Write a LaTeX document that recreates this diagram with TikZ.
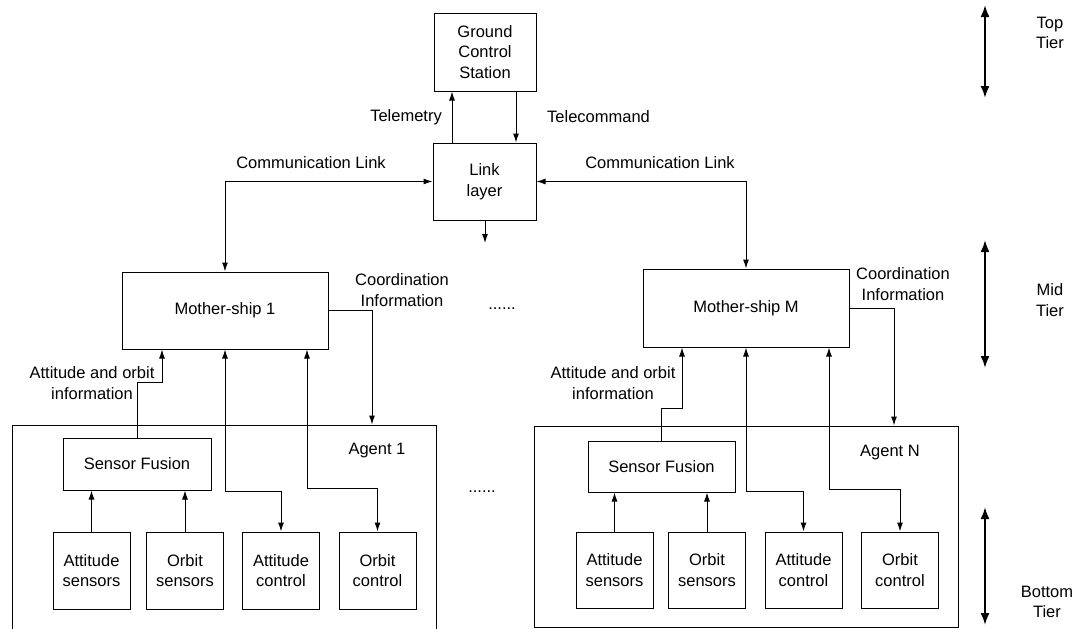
\documentclass[tikz,border=0pt]{standalone}
\usepackage{fontspec}
\setmainfont{Liberation Sans}
\usetikzlibrary{arrows.meta,calc}
\begin{document}
\begin{tikzpicture}[x=1pt,y=-1pt,
  every node/.style={font=\fontsize{16.5}{20.5}\selectfont},
  box/.style={draw,line width=1pt,inner sep=0pt,align=center},
  lbl/.style={align=center,inner sep=0pt},
  arr/.style={line width=1pt,-{Latex[length=9pt,width=6pt]}},
  darr/.style={line width=1pt,{Latex[length=9pt,width=6pt]}-{Latex[length=9pt,width=6pt]}},
  tier/.style={line width=2pt,{Latex[length=12pt,width=9pt]}-{Latex[length=12pt,width=9pt]}}]
\useasboundingbox (0,0) rectangle (1082,629);
% top tier
\node[box,minimum width=102pt,minimum height=78pt] (gcs) at (485,52) {Ground\\Control\\Station};
\node[box,minimum width=103pt,minimum height=77pt] (link) at (484.5,181.5) {Link\\layer};
% mother-ships
\node[box,minimum width=206pt,minimum height=77pt] (ms1) at (225,310.5) {Mother-ship 1};
\node[box,minimum width=206pt,minimum height=78pt] (msm) at (746,308) {Mother-ship M};
% agents
\node[box,minimum width=424pt,minimum height=206pt] (ag1) at (224,528) {};
\node[box,minimum width=424pt,minimum height=201pt] (agn) at (746,526.5) {};
\node[lbl] (ag1l) at (377,451) {Agent 1};
\node[lbl] (agnl) at (890,453) {Agent N};
% agent 1 inner
\node[box,minimum width=148pt,minimum height=52pt] (sf1) at (137,464) {Sensor Fusion};
\node[box,minimum width=77pt,minimum height=77pt] (as1) at (91.5,570.5) {Attitude\\sensors};
\node[box,minimum width=77pt,minimum height=77pt] (os1) at (185,570.5) {Orbit\\sensors};
\node[box,minimum width=77pt,minimum height=77pt] (ac1) at (281,570.5) {Attitude\\control};
\node[box,minimum width=77pt,minimum height=77pt] (oc1) at (377.5,570.5) {Orbit\\control};
% agent N inner
\node[box,minimum width=147pt,minimum height=51pt] (sfn) at (661.5,466.5) {Sensor Fusion};
\node[box,minimum width=77pt,minimum height=76pt] (asn) at (614.5,570) {Attitude\\sensors};
\node[box,minimum width=77pt,minimum height=76pt] (osn) at (707,570) {Orbit\\sensors};
\node[box,minimum width=77pt,minimum height=76pt] (acn) at (803.5,570) {Attitude\\control};
\node[box,minimum width=77pt,minimum height=76pt] (ocn) at (900,570) {Orbit\\control};
% labels
\node[lbl,anchor=east] (tm) at (442,117) {Telemetry};
\node[lbl,anchor=west] (tc) at (547,117) {Telecommand};
\node[lbl] (cl1) at (311,163) {Communication Link};
\node[lbl] (cl2) at (660,163) {Communication Link};
\node[lbl] (ci1) at (402,290) {Coordination\\Information};
\node[lbl] (ci2) at (903,284) {Coordination\\Information};
\node[lbl] (ao1) at (92,383) {Attitude and orbit\\information};
\node[lbl] (ao2) at (613,383) {Attitude and orbit\\information};
\node[lbl] (dots1) at (502,309) {......};
\node[lbl] (dots2) at (482,492) {......};
\node[lbl] (tt) at (1050,33) {Top\\Tier};
\node[lbl] (mt) at (1050,300) {Mid\\Tier};
\node[lbl] (bt) at (1047,602) {Bottom\\Tier};
% coordinates
\coordinate (linkout) at (485,243);
\coordinate (t1a) at (985,5);   \coordinate (t1b) at (985,98);
\coordinate (t2a) at (985,240); \coordinate (t2b) at (985,368);
\coordinate (t3a) at (985,507); \coordinate (t3b) at (985,625);
% connectors top
\draw[arr] (452,0 |- link.north) -- (452,0 |- gcs.south);
\draw[arr] (516,0 |- gcs.south) -- (516,0 |- link.north);
\draw[arr] (485,0 |- link.south) -- (linkout);
\draw[darr] (link.west) -| (ms1.north);
\draw[darr] (link.east) -| (msm.north);
% mother-ship 1 <-> agent 1
\draw[arr] (ms1.east) -| (372,0 |- ag1.north);
\draw[arr] (sf1.north) -- (137,382) -- (162,382) -- (162,0 |- ms1.south);
\draw[darr] (ms1.south) -- (225,491) -| (ac1.north);
\draw[darr] (307,0 |- ms1.south) -- (307,488) -| (oc1.north);
\draw[arr] (as1.north) -- (as1.north |- sf1.south);
\draw[arr] (os1.north) -- (os1.north |- sf1.south);
% mother-ship M <-> agent N
\draw[arr] (msm.east) -| (894,0 |- agn.north);
\draw[arr] (sfn.north) -- (661.5,408) -- (682,408) -- (682,0 |- msm.south);
\draw[darr] (msm.south) -- (746,491) -| (acn.north);
\draw[darr] (829,0 |- msm.south) -- (829,489) -| (ocn.north);
\draw[arr] (asn.north) -- (asn.north |- sfn.south);
\draw[arr] (osn.north) -- (osn.north |- sfn.south);
% tiers
\draw[tier] (t1a) -- (t1b);
\draw[tier] (t2a) -- (t2b);
\draw[tier] (t3a) -- (t3b);
\end{tikzpicture}
\end{document}
